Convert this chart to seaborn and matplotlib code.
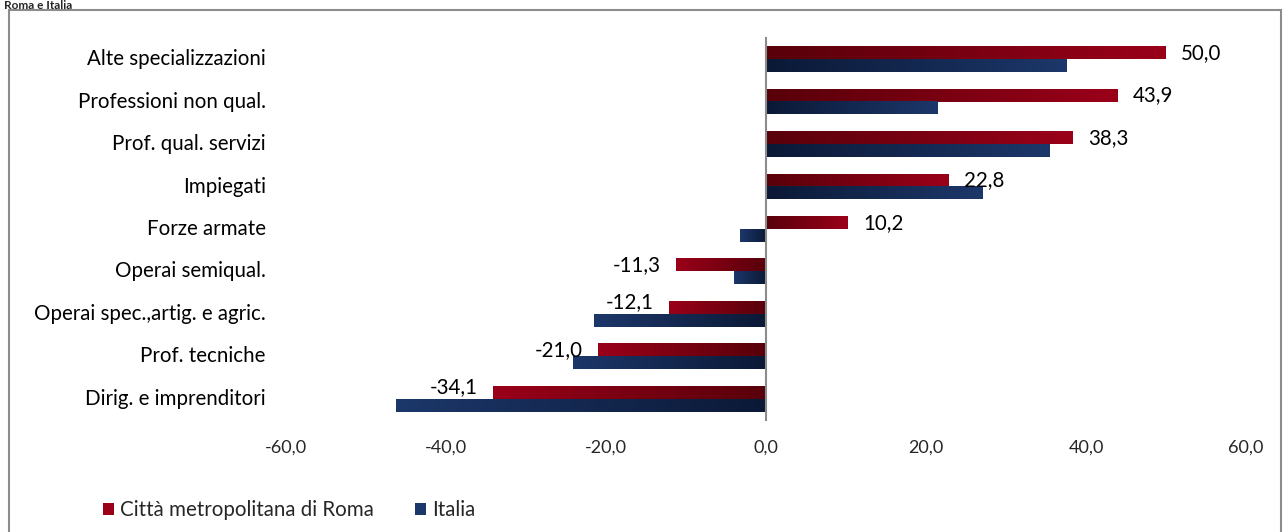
import numpy as np
import pandas as pd
import matplotlib
matplotlib.use("Agg")
import matplotlib.pyplot as plt
import seaborn as sns
from matplotlib.colors import LinearSegmentedColormap
from matplotlib.patches import Patch, Rectangle
from matplotlib.ticker import FuncFormatter

categories = ["Alte specializzazioni", "Professioni non qual.", "Prof. qual. servizi",
              "Impiegati", "Forze armate", "Operai semiqual.",
              "Operai spec.,artig. e agric.", "Prof. tecniche", "Dirig. e imprenditori"]
roma = [50.0, 43.9, 38.3, 22.8, 10.2, -11.3, -12.1, -21.0, -34.1]
italia = [37.6, 21.5, 35.4, 27.1, -3.3, -4.0, -21.5, -24.1, -46.3]
series = ["Città metropolitana di Roma", "Italia"]

df = pd.DataFrame({
    "categoria": categories * 2,
    "valore": roma + italia,
    "serie": [series[0]] * len(roma) + [series[1]] * len(italia),
})

sns.set_style("white")
plt.rcParams["font.family"] = ["Lato", "DejaVu Sans"]

red_dark, red_light = "#58000a", "#9a0019"
blue_dark, blue_light = "#0b1936", "#1c376a"
cmaps = {
    series[0]: LinearSegmentedColormap.from_list("r", [red_dark, red_light]),
    series[1]: LinearSegmentedColormap.from_list("b", [blue_dark, blue_light]),
}
FS = 14.8

fig = plt.figure(figsize=(12.84, 5.32), dpi=100)
ax = fig.add_axes([286 / 1284, 1 - 420 / 532, 960 / 1284, 382 / 532])

sns.barplot(data=df, x="valore", y="categoria", hue="serie", orient="h",
            palette=[red_light, blue_light], width=0.6, ax=ax, legend=False)

# gradient fill: dark at zero, light at the bar end
grad = np.linspace(0, 1, 256).reshape(1, -1)
n = len(categories)
for i, s in enumerate(series):
    for patch in ax.containers[i]:
        x0 = patch.get_x()
        w = patch.get_width()
        y0 = patch.get_y()
        h = patch.get_height()
        end = x0 + w if x0 == 0 else x0
        ax.imshow(grad, cmap=cmaps[s], extent=(0, end, y0, y0 + h),
                  aspect="auto", interpolation="bicubic", zorder=2)
        patch.set_visible(False)

# data labels on Roma series (the longer negative ones sit a bit higher, as in excel)
for patch, v in zip(ax.containers[0], roma):
    yc = patch.get_y() + patch.get_height() / 2
    dy = 4 if v in (-12.1, -34.1) else 0
    ax.annotate(f"{v:.1f}".replace(".", ","), (v, yc),
                xytext=(11 if v >= 0 else -11, dy), textcoords="offset points",
                ha="left" if v >= 0 else "right", va="center", fontsize=FS, color="black")

ax.set_xlim(-60, 60)
ax.set_ylim(n - 0.5, -0.5)
ax.set_xticks(np.arange(-60, 61, 20))
ax.xaxis.set_major_formatter(FuncFormatter(lambda v, p: f"{v:.1f}".replace(".", ",")))
ax.tick_params(axis="x", length=0, pad=14, labelsize=13)

# vertical axis at zero with tick marks between categories
for sp in ["top", "right", "bottom"]:
    ax.spines[sp].set_visible(False)
ax.spines["left"].set_position(("data", 0))
ax.spines["left"].set_color("#8c8c8c")
ax.spines["left"].set_linewidth(1.5)
ax.spines["left"].set_zorder(3)
ax.set_yticks(np.arange(-0.5, n, 1.0))
ax.set_yticklabels([])
ax.tick_params(axis="y", length=6, width=1.5, color="#8c8c8c", direction="out")
ax.set_xlabel("")
ax.set_ylabel("")

for i, c in enumerate(categories):
    ax.text(-0.021, i, c, transform=ax.get_yaxis_transform(), ha="right", va="center",
            fontsize=FS, color="black")

# outer frame and title
fig.patches.append(Rectangle((9 / 1284, -0.05), (1281 - 9) / 1284, 1.05 - 10 / 532,
                             transform=fig.transFigure, fill=False,
                             edgecolor="#8c8c8c", linewidth=1.5))
fig.text(4 / 1284, 1 - 9 / 532, "Roma e Italia", ha="left", va="baseline",
         fontsize=8.5, fontweight="bold")

handles = [Patch(facecolor=red_light, edgecolor="none"),
           Patch(facecolor=blue_light, edgecolor="none")]
fig.legend(handles, series, loc="center left", bbox_to_anchor=(84 / 1284, 1 - 510 / 532),
           ncol=2, frameon=False, fontsize=FS, handlelength=0.55, handleheight=0.55,
           handletextpad=0.3, columnspacing=2.0)

fig.savefig("out.png", dpi=100)
